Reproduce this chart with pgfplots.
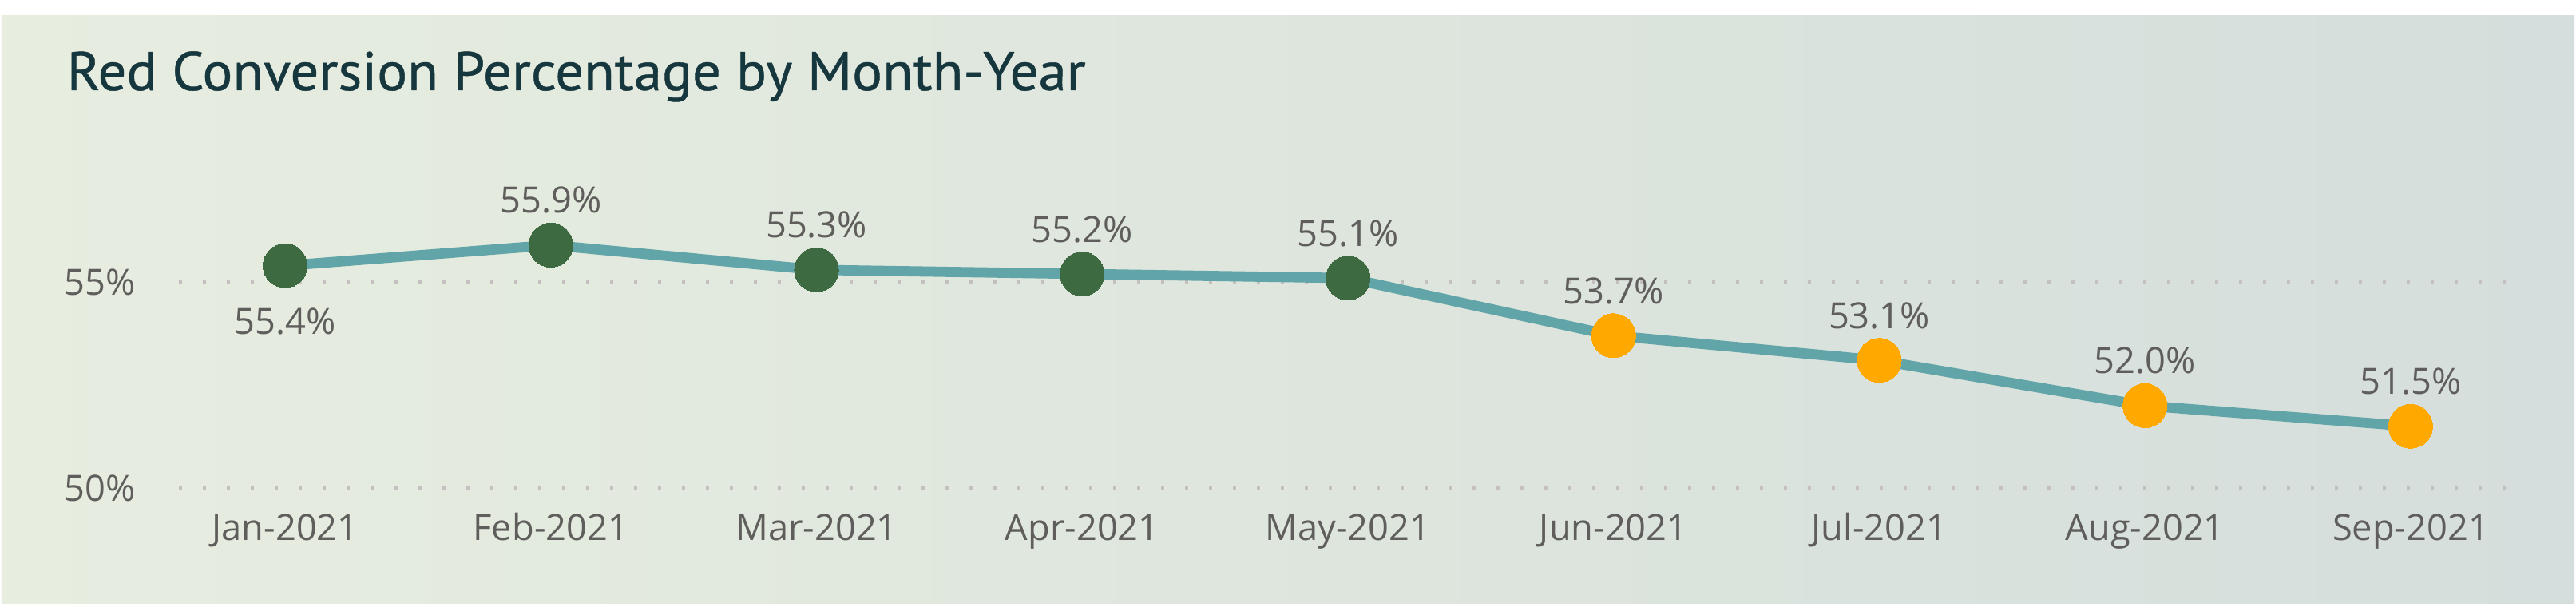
\documentclass[border=0pt]{standalone}
\usepackage{pgfplots}
\pgfplotsset{compat=1.18}
\usepackage{fontspec}
\setmainfont{Open Sans}
\newfontfamily\titlefont[FakeBold=0.6]{PT Sans}
\definecolor{linec}{RGB}{98,165,168}
\definecolor{greenc}{RGB}{62,106,66}
\definecolor{orangec}{RGB}{255,168,0}
\definecolor{titlec}{RGB}{22,55,62}
\definecolor{labc}{RGB}{95,94,92}
\definecolor{gridc}{RGB}{196,192,192}
\definecolor{bgl}{RGB}{231,237,223}
\definecolor{bgr}{RGB}{213,222,220}
\begin{document}
\begin{tikzpicture}
\path[use as bounding box, fill=white] (-56pt,-37.25pt) rectangle (750.5pt,152.75pt);
\shade[left color=bgl, right color=bgr] (-55.5pt,-36.25pt) rectangle (750pt,147.75pt);
\node[anchor=base west, inner sep=0pt, xscale=1.035, text=titlec, font=\titlefont\fontsize{17.1}{19}\selectfont] at (-35.25pt,124.5pt) {Red Conversion Percentage by Month-Year};
\begin{axis}[
  at={(0,0)}, anchor=south west,
  scale only axis, width=729pt, height=83.75pt,
  xmin=-0.40, xmax=8.364, ymin=50, ymax=56.5,
  clip=false,
  axis line style={draw=none},
  major tick length=0pt,
  xtick={0,1,2,3,4,5,6,7,8},
  xticklabels={Jan-2021,Feb-2021,Mar-2021,Apr-2021,May-2021,Jun-2021,Jul-2021,Aug-2021,Sep-2021},
  ytick={50,55},
  yticklabels={50\%,55\%},
  ymajorgrids,
  major grid style={color=gridc, line width=1pt, dash pattern=on 1pt off 6.5pt},
  xticklabel style={anchor=base, inner sep=0pt, yshift=-16.5pt, text=labc, font=\fontsize{11.3}{13}\selectfont},
  yticklabel style={anchor=east, inner sep=0pt, xshift=-13.5pt, text=labc, font=\fontsize{11.3}{13}\selectfont},
  every node near coord/.append style={text=labc, font=\fontsize{11.3}{13}\selectfont, inner sep=0pt},
]
\addplot[linec, line width=3.2pt, line join=round, no marks] coordinates {
(0,55.4) (1,55.9) (2,55.3) (3,55.2) (4,55.1) (5,53.7) (6,53.1) (7,52.0) (8,51.5)};
\addplot[greenc, only marks, mark=*, mark size=6.9pt, mark options={draw=greenc, fill=greenc, line width=0pt},
  point meta=explicit symbolic, nodes near coords,
  nodes near coords style={anchor=center, yshift=-17.5pt}] coordinates {
(0,55.4) [55.4\%]};
\addplot[greenc, only marks, mark=*, mark size=6.9pt, mark options={draw=greenc, fill=greenc, line width=0pt},
  point meta=explicit symbolic, nodes near coords,
  nodes near coords style={anchor=center, yshift=14pt}] coordinates {
(1,55.9) [55.9\%] (2,55.3) [55.3\%] (3,55.2) [55.2\%] (4,55.1) [55.1\%]};
\addplot[orangec, only marks, mark=*, mark size=6.9pt, mark options={draw=orangec, fill=orangec, line width=0pt},
  point meta=explicit symbolic, nodes near coords,
  nodes near coords style={anchor=center, yshift=14pt}] coordinates {
(5,53.7) [53.7\%] (6,53.1) [53.1\%] (7,52.0) [52.0\%] (8,51.5) [51.5\%]};
\end{axis}
\end{tikzpicture}
\end{document}
